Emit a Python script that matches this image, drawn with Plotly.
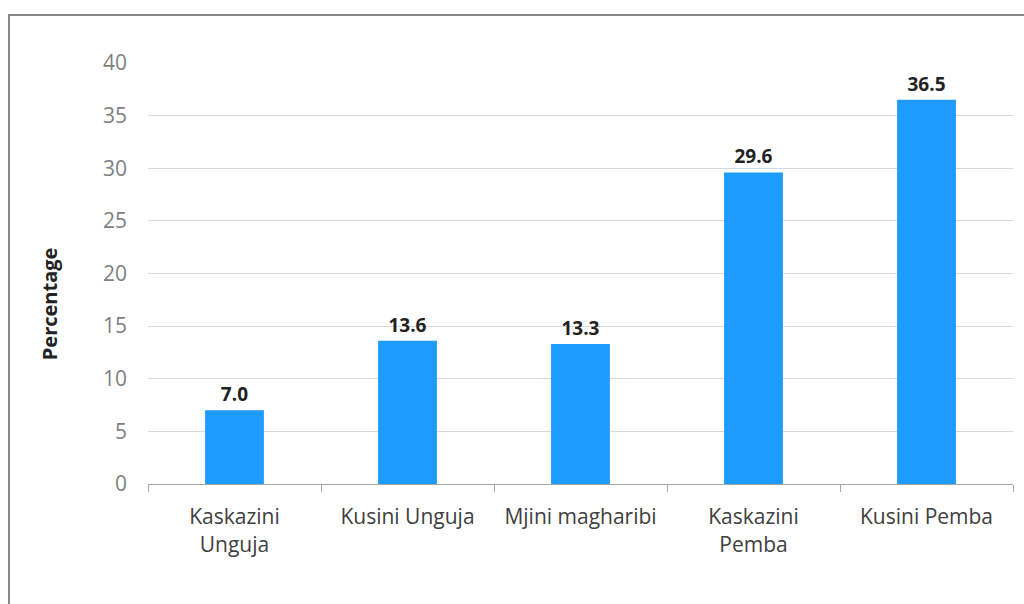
import plotly.graph_objects as go

categories = ["Kaskazini<br>Unguja", "Kusini Unguja", "Mjini magharibi", "Kaskazini<br>Pemba", "Kusini Pemba"]
values = [7.0, 13.6, 13.3, 29.6, 36.5]
labels = ["7.0", "13.6", "13.3", "29.6", "36.5"]
y_ticks = [0, 5, 10, 15, 20, 25, 30, 35, 40]

fig = go.Figure()
fig.add_trace(go.Bar(
    x=categories, y=values, text=labels, textposition="outside",
    textfont=dict(family="Open Sans", size=19, color="#222222", weight="bold"),
    marker=dict(color="#1E9BFF", line=dict(width=0)),
    width=0.34, cliponaxis=False, hoverinfo="skip",
))

fig.update_layout(
    width=1024, height=604,
    margin=dict(l=148, r=11, t=63, b=120),
    paper_bgcolor="white", plot_bgcolor="white",
    showlegend=False,
    font=dict(family="Open Sans"),
)
fig.update_yaxes(
    range=[0, 40], tickvals=y_ticks, showgrid=True, gridcolor="#D9D9D9", gridwidth=1,
    zeroline=False, showline=False, ticks="", ticklabelstandoff=20,
    tickfont=dict(size=21, color="#7F7F7F"),
)
fig.update_xaxes(
    showline=True, linecolor="#A6A6A6", linewidth=1,
    ticks="outside", tickson="boundaries", ticklen=7, tickcolor="#A6A6A6",
    ticklabelstandoff=14,
    tickfont=dict(size=21, color="#404040"),
)
fig.add_annotation(text="<b>Percentage</b>", xref="paper", yref="paper",
                   x=-0.113, y=0.4276, textangle=-90, showarrow=False,
                   xanchor="center", yanchor="middle",
                   font=dict(size=20, color="#222222"))
fig.add_shape(type="rect", xref="paper", yref="paper",
              x0=-0.1607, y0=-0.5, x1=1.2, y1=1.114,
              line=dict(color="#888888", width=2), fillcolor="rgba(0,0,0,0)", layer="above")

fig.write_html("out.html", config={"displayModeBar": False},
               post_script="document.body.style.margin='0';document.body.style.overflow='hidden';")
